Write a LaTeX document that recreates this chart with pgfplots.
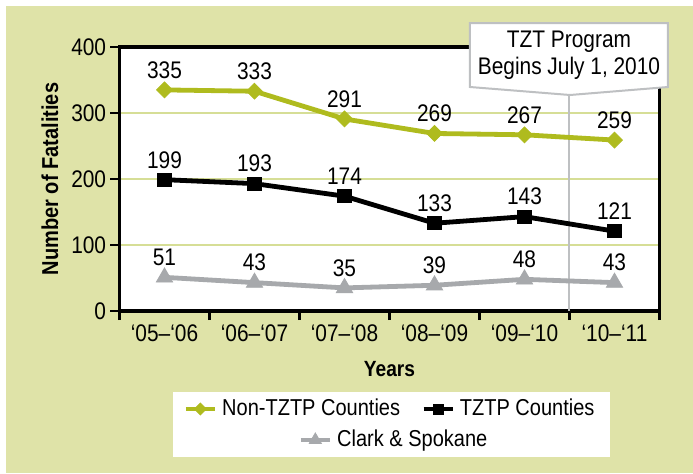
\documentclass[border=0pt]{standalone}
\usepackage{pgfplots}
\pgfplotsset{compat=1.18}
\usepackage{fontspec}
\setmainfont{Liberation Sans}[FakeStretch=0.87]
\definecolor{bggreen}{RGB}{223,227,168}
\definecolor{gridgreen}{RGB}{214,222,150}
\definecolor{olive}{RGB}{175,187,30}
\definecolor{cgray}{RGB}{167,169,172}
\definecolor{boxgray}{RGB}{190,192,194}
\pgfplotsset{
  myimg/.style={legend image code/.code={\draw[mark repeat=2,mark phase=2,##1, every mark/.append style={scale=0.75}] plot coordinates {(0pt,0pt) (7.25pt,0pt) (14.5pt,0pt)};}},
  nontstyle/.style={olive, line width=2.4pt, mark=square*, mark size=2.8pt, mark options={solid, rotate=45, line width=0.4pt}},
  tztpstyle/.style={black, line width=2.4pt, mark=square*, mark size=3.3pt, mark options={solid, line width=0.4pt}},
  clarkstyle/.style={cgray, line width=2.4pt, mark=triangle*, mark size=4.7pt, mark options={solid, line width=0.4pt}},
}
\begin{document}
\begin{tikzpicture}
\fill[white] (-59.75pt,-81pt) rectangle (286.75pt,155.5pt);
\fill[bggreen] (-56.75pt,-81pt) rectangle (286.75pt,152.5pt);
\fill[white] (26.75pt,-40.5pt) rectangle (245.25pt,-73pt);
\begin{axis}[
  scale only axis, width=270pt, height=132pt,
  xmin=0, xmax=6, ymin=0, ymax=400,
  axis background/.style={fill=white},
  font=\fontsize{12}{14}\selectfont,
  xtick={0,...,6},
  xticklabels={‘05–‘06,‘06–‘07,‘07–‘08,‘08–‘09,‘09–‘10,‘10–‘11},
  x tick label as interval,
  ytick={0,100,...,400},
  ymajorgrids, major grid style={gridgreen, line width=1pt},
  tick align=outside, xtick pos=bottom, ytick pos=left,
  major tick length=4.5pt,
  every tick/.append style={black, line width=1.3pt},
  axis line style={line width=1.6pt},
  tick label style={inner sep=2pt},
  /pgf/number format/assume math mode=true,
  ylabel={Number of Fatalities},
  ylabel style={at={(axis description cs:-0.1287,0.5)}, anchor=center, font=\bfseries\fontsize{11.5}{13}\selectfont},
  xlabel={Years},
  xlabel style={at={(axis description cs:0.5,-0.2197)}, anchor=center, font=\bfseries\fontsize{11}{13}\selectfont},
  nodes near coords,
  every node near coord/.append style={anchor=south, inner sep=0pt, yshift=5.5pt, text=black, font=\fontsize{12}{14}\selectfont},
  myimg,
  legend columns=2, legend cell align=left,
  legend style={at={(axis description cs:0.1176,-0.3712)}, anchor=west, draw=none, fill=none, inner sep=0pt, column sep=0pt,
    /tikz/every even column/.append style={column sep=8pt},
    nodes={inner xsep=2.5pt, inner ysep=1pt}, font=\fontsize{11.5}{14}\selectfont},
  clip=false,
]
\draw[boxgray, line width=1pt] (axis cs:5,0) -- (axis cs:5,327);
\addplot[nontstyle] coordinates {(0.5,335) (1.5,333) (2.5,291) (3.5,269) (4.5,267) (5.5,259)};
\addlegendentry{Non-TZTP Counties}
\addplot[tztpstyle] coordinates {(0.5,199) (1.5,193) (2.5,174) (3.5,133) (4.5,143) (5.5,121)};
\addlegendentry{TZTP Counties}
\addplot[clarkstyle, forget plot] coordinates {(0.5,51) (1.5,43) (2.5,35) (3.5,39) (4.5,48) (5.5,43)};
\end{axis}
\begin{axis}[
  scale only axis, width=270pt, height=132pt, hide axis,
  xmin=0, xmax=1, ymin=0, ymax=1,
  myimg, legend cell align=left,
  legend style={at={(axis description cs:0.3306,-0.4886)}, anchor=west, draw=none, fill=none, inner sep=0pt,
    nodes={inner xsep=2.5pt, inner ysep=1pt}, font=\fontsize{11.5}{14}\selectfont},
]
\addlegendimage{clarkstyle}
\addlegendentry{Clark \& Spokane}
\end{axis}
\draw[boxgray, line width=1pt, fill=white] (175.25pt,144pt) -- (274.25pt,144pt) -- (274.25pt,112pt) -- (225.25pt,108pt) -- (175.25pt,112pt) -- cycle;
\node[align=center, font=\fontsize{12}{13.5}\selectfont, inner sep=0pt] at (224.75pt,128pt) {TZT Program\\Begins July 1, 2010};
\end{tikzpicture}
\end{document}
